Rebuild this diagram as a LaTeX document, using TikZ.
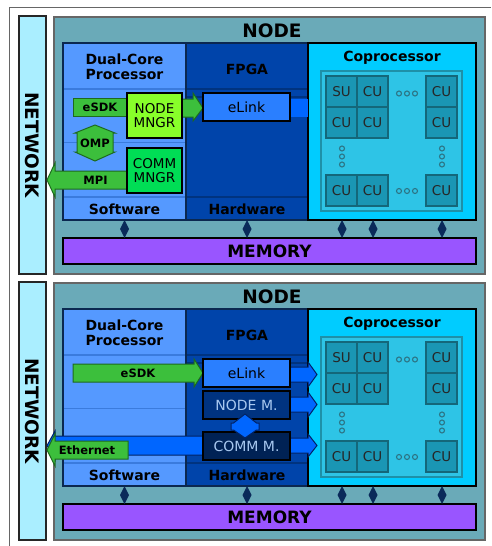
\documentclass[tikz,border=0pt]{standalone}
\usepackage{fontspec}
\setmainfont{DejaVu Sans}
\definecolor{netc}{HTML}{AAEEFF}
\definecolor{nodec}{HTML}{6AAAB8}
\definecolor{procc}{HTML}{5599FF}
\definecolor{procline}{HTML}{3A7BDD}
\definecolor{fpgac}{HTML}{0044AA}
\definecolor{fpgaline}{HTML}{00337F}
\definecolor{copc}{HTML}{00CCFF}
\definecolor{innerc}{HTML}{2EC4E6}
\definecolor{inneredge}{HTML}{1E90A8}
\definecolor{cellc}{HTML}{1A96B4}
\definecolor{celledge}{HTML}{14677A}
\definecolor{memc}{HTML}{9955FF}
\definecolor{diamc}{HTML}{0A2A5A}
\definecolor{coledge}{HTML}{0B2850}
\definecolor{greenc}{HTML}{3CBF3C}
\definecolor{greenedge}{HTML}{1E6A1E}
\definecolor{nodemngrc}{HTML}{88FF2A}
\definecolor{commmngrc}{HTML}{00DD55}
\definecolor{elinkc}{HTML}{2A7FFF}
\definecolor{nodemc}{HTML}{003380}
\definecolor{commmc}{HTML}{002255}
\definecolor{bluec}{HTML}{0066FF}
\definecolor{blueedge}{HTML}{002266}
\definecolor{lighttxt}{HTML}{A8C8F0}
\definecolor{framegray}{HTML}{666666}
\newcommand\fb[1]{\fontsize{#1}{#1}\selectfont\bfseries}
\newcommand\fr[1]{\fontsize{#1}{#1}\selectfont}
\newcommand\panelbase[1]{%
  \node[blk, netbar, minimum width=27, minimum height=258] (#1net) at (19,16) {};
  \node[rotate=-90, font=\fb{18.5}] (#1nettxt) at (#1net.center) {NETWORK};
  \node[blk, nodebox, minimum width=431, minimum height=257] (#1node) at (54,17) {};
  \node[font=\fb{18.5}] (#1nodetxt) at (272,31) {NODE};
  \node[blk, fill=procc, minimum width=123, minimum height=177] (#1proc) at (63,43) {};
  \node[blk, fill=fpgac, minimum width=122, minimum height=177] (#1fpga) at (186,43) {};
  \draw[procline, line width=1.1] (63,89) -- (186,89) (63,142.5) -- (186,142.5) (63,197) -- (186,197);
  \draw[fpgaline, line width=1.1] (186,89) -- (308,89) (186,97) -- (308,97) (186,197) -- (308,197);
  \draw[colborder] (#1proc.north west) rectangle (#1proc.south east);
  \draw[colborder] (#1fpga.north west) rectangle (#1fpga.south east);
  \node[blk, fill=copc, draw=black, line width=1.3, minimum width=168, minimum height=177] (#1cop) at (308,43) {};
  \node[font=\fb{14}, align=center] (#1proctxt) at (124.5,66.5) {Dual-Core\\[1pt]Processor};
  \node[font=\fb{14}] (#1fpgatxt) at (247,69) {FPGA};
  \node[font=\fb{14}] (#1coptxt) at (392,58) {Coprocessor};
  \node[font=\fb{14}] (#1swtxt) at (124.5,209) {Software};
  \node[font=\fb{14}] (#1hwtxt) at (247,209) {Hardware};
  \node[blk, fill=innerc, draw=inneredge, line width=1.2, minimum width=141, minimum height=140] (#1inner) at (321,71) {};
  \node[cell] (#1c11) at (326,76) {SU};
  \node[cell] (#1c12) at (357,76) {CU};
  \node[cell] (#1c13) at (426,76) {CU};
  \node[cell] (#1c21) at (326,107) {CU};
  \node[cell] (#1c22) at (357,107) {CU};
  \node[cell] (#1c23) at (426,107) {CU};
  \node[cell] (#1c31) at (326,175) {CU};
  \node[cell] (#1c32) at (357,175) {CU};
  \node[cell] (#1c33) at (426,175) {CU};
  \foreach \dx in {399,407,415}{\draw[dotst] (\dx,93.5) circle (2.5); \draw[dotst] (\dx,191) circle (2.5);}
  \foreach \dy in {148.5,156.5,164.5}{\draw[dotst] (342,\dy) circle (2.5); \draw[dotst] (442,\dy) circle (2.5);}
  \node[blk, fill=memc, draw=black, line width=1.3, minimum width=413, minimum height=26] (#1mem) at (63,238) {};
  \node[font=\fb{17}] (#1memtxt) at (#1mem.center) {MEMORY};
  \foreach \dx in {124.5,247,342,373,442}{\fill[diamc] (\dx,220) -- (\dx+4.5,229) -- (\dx,238) -- (\dx-4.5,229) -- cycle;}
}
\begin{document}
\begin{tikzpicture}[x=1pt,y=-1pt,
  blk/.style={rectangle, inner sep=0pt, outer sep=0pt, anchor=north west},
  netbar/.style={fill=netc, draw=black!85, line width=1.3},
  nodebox/.style={fill=nodec, draw=black!60, line width=1.3},
  colborder/.style={draw=coledge, line width=1.2},
  cell/.style={blk, fill=cellc, draw=celledge, line width=1.2, minimum width=31, minimum height=31, font=\fr{13.5}, text=black!85},
  dotst/.style={draw=celledge!90, fill=innerc, line width=1.1},
  greenshape/.style={fill=greenc, draw=greenedge, line width=1},
  blueshape/.style={fill=bluec, draw=blueedge, line width=1},
  mngr/.style={blk, draw=black, line width=1.2, minimum width=55, minimum height=45, align=center, font=\fr{13.5}},
  fpgabox/.style={blk, draw=black, line width=1.2, minimum width=87, minimum height=28, font=\fr{14}},
  glabel/.style={font=\fb{11.5}}]
\useasboundingbox (0,0) rectangle (491,546);
\fill[white] (0,0) rectangle (491,546);
\draw[framegray, line width=1.2] (9.5,546) -- (9.5,7.5) -- (491,7.5);
% ---------- top panel ----------
\panelbase{a}
\node[blk, greenshape, minimum width=54, minimum height=18] (aesdk) at (73,98) {};
\node[glabel] (aesdktxt) at (aesdk.center) {eSDK};
\fill[bluec] (290,99) rectangle (308,117);
\draw[greenshape] (182,99) -- (193,99) -- (193,93) -- (203,108) -- (193,121) -- (193,117) -- (182,117) -- cycle;
\node[mngr, fill=nodemngrc] (anodemngr) at (127,93) {NODE\\MNGR};
\node[fpgabox, fill=elinkc] (aelink) at (203,93) {eLink};
\draw[greenshape] (95,125) -- (115,133) -- (113,133) -- (113,152) -- (115,152) -- (95,161) -- (75,152) -- (77,152) -- (77,133) -- (75,133) -- cycle;
\node[glabel] (aomp) at (95,143) {OMP};
\draw[greenshape] (128,171) -- (55,171) -- (55,163) -- (47,180) -- (55,197) -- (55,189) -- (128,189) -- cycle;
\node[glabel] (ampi) at (95.5,180) {MPI};
\node[mngr, fill=commmngrc] (acommmngr) at (127,148) {COMM\\MNGR};
% ---------- bottom panel ----------
\begin{scope}[yshift=-266pt]
\panelbase{b}
\draw[greenshape] (73,98) -- (194,98) -- (194,93) -- (203,107) -- (194,121) -- (194,116) -- (73,116) -- cycle;
\node[glabel] (besdk) at (138,107) {eSDK};
\draw[blueshape] (290,101) -- (308,101) -- (308,96) -- (317,108.5) -- (308,121) -- (308,116) -- (290,116) -- cycle;
\draw[blueshape] (290,131) -- (308,131) -- (308,126) -- (317,138.5) -- (308,151) -- (308,146) -- (290,146) -- cycle;
\draw[blueshape] (290,172) -- (308,172) -- (308,168) -- (317,179.5) -- (308,191) -- (308,187) -- (290,187) -- cycle;
\draw[blueshape] (210,170) -- (55,170) -- (55,165) -- (47,179.5) -- (55,194) -- (55,189) -- (210,189) -- cycle;
\draw[greenshape] (128,175) -- (55,175) -- (55,168) -- (47,184) -- (55,200) -- (55,193) -- (128,193) -- cycle;
\node[glabel] (beth) at (87,184) {Ethernet};
\node[fpgabox, fill=elinkc] (belink) at (203,93) {eLink};
\node[fpgabox, fill=nodemc, text=lighttxt] (bnodem) at (203,125) {NODE M.};
\node[fpgabox, fill=commmc, text=lighttxt] (bcommm) at (203,166) {COMM M.};
\draw[blueshape] (245,148) -- (256.5,157) -- (259,157) -- (259,164) -- (256.5,164) -- (245,172) -- (233.5,164) -- (231,164) -- (231,157) -- (233.5,157) -- cycle;
\end{scope}
\end{tikzpicture}
\end{document}
